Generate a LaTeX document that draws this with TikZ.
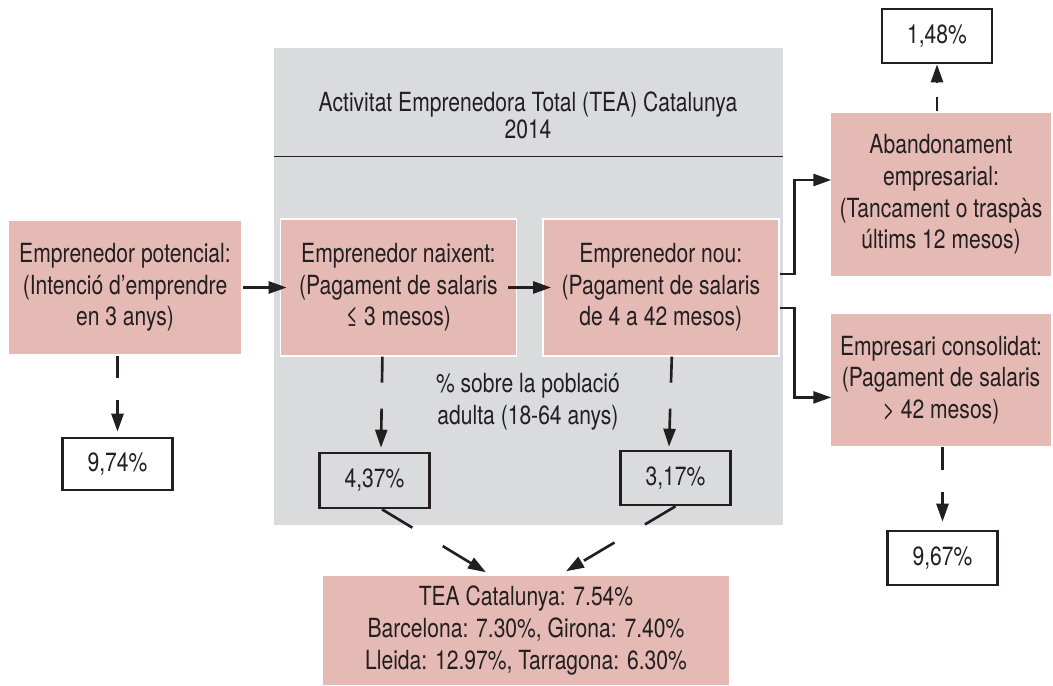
\documentclass[tikz,border=0pt]{standalone}
\usepackage{fontspec}
\setmainfont{TeX Gyre Heros}[FakeStretch=0.80]
\usetikzlibrary{positioning, arrows.meta, backgrounds, calc}

\definecolor{stagepink}{RGB}{229,186,180}
\definecolor{panelgray}{RGB}{218,219,221}
\definecolor{inkblack}{RGB}{35,31,32}

\begin{document}
\begin{tikzpicture}[
    font=\fontsize{15}{18}\selectfont,
    >={Triangle[length=3.6mm, width=2.4mm]},
    % Styles
    stage/.style={
        draw=white, line width=0.8pt, fill=stagepink, rectangle, align=center, inner sep=0pt, text=inkblack
    },
    share/.style={
        draw=inkblack, line width=1.5pt, rectangle, minimum width=2.2cm, minimum height=1.08cm, inner sep=0pt, text=inkblack
    },
    panel/.style={fill=panelgray, rectangle, inner sep=0pt},
    arrow/.style={->, line width=1.5pt, inkblack},
    gaparrow/.style={->, line width=1.5pt, inkblack, dash pattern=on #1 off #1},
    rule/.style={line width=0.8pt, inkblack}
]
    \useasboundingbox (0,0) rectangle (21.06,-13.72);

    % --- TEA PANEL ---
    \begin{scope}[on background layer]
        \node[panel, minimum width=10.18cm, minimum height=9.54cm] (tea panel) at (10.57,-5.73) {};
    \end{scope}
    \node[align=center, font=\fontsize{15}{15.5}\selectfont, text=inkblack] (title) at (10.56,-2.30) {Activitat Emprenedora Total (TEA) Catalunya\\2014};
    \draw[rule] ([yshift=-2.18cm]tea panel.north west) -- ([yshift=-2.18cm]tea panel.north east);

    % --- STAGES ---
    \node[stage, minimum width=4.68cm, minimum height=2.70cm] (potencial) at (2.50,-5.75) {Emprenedor potencial:\\(Intenció d’emprendre\\en 3 anys)};
    \node[stage, minimum width=4.72cm, minimum height=2.74cm, right=0.74cm of potencial] (naixent) {Emprenedor naixent:\\(Pagament de salaris\\≤ 3 mesos)};
    \node[stage, minimum width=4.72cm, minimum height=2.74cm, right=0.5cm of naixent] (nou) {Emprenedor nou:\\(Pagament de salaris\\de 4 a 42 mesos)};

    % Exits
    \node[stage, minimum width=4.44cm, minimum height=3.30cm] (abandonament) at (18.82,-3.89) {Abandonament\\empresarial:\\(Tancament o traspàs\\últims 12 mesos)};
    \node[stage, minimum width=4.44cm, minimum height=2.66cm, below=0.7cm of abandonament] (consolidat) {Empresari consolidat:\\(Pagament de salaris\\> 42 mesos)};

    % --- SHARES ---
    \node[share, minimum height=1.04cm] (p974) at (2.35,-9.28) {9,74\%};
    \node[share, minimum height=1.10cm] (p437) at (7.49,-9.61) {4,37\%};
    \node[share] (p317) at (13.51,-9.56) {3,17\%};
    \node[share] (p148) at (18.74,-0.72) {1,48\%};
    \node[share] (p967) at (18.85,-11.16) {9,67\%};

    \node[align=center, text=inkblack] (poblacio) at (10.56,-8.04) {\% sobre la població\\adulta (18-64 anys)};

    % TEA total
    \node[stage, minimum width=8.16cm, minimum height=2.22cm] (tea) at (10.52,-12.61) {TEA Catalunya: 7.54\%\\Barcelona: 7.30\%, Girona: 7.40\%\\Lleida: 12.97\%, Tarragona: 6.30\%};

    % --- CONNECTIONS ---
    \draw[arrow, shorten >=-0.14cm] (potencial.east) -- (potencial.east -| naixent.west);
    \draw[arrow, shorten <=-0.18cm, shorten >=-0.18cm] (naixent.east) -- (nou.west);
    \draw[arrow, shorten >=-0.04cm] ([yshift=0.27cm]nou.east) -- ++(0.30,0) |- ([yshift=0.29cm]abandonament.west);
    \draw[arrow, shorten >=-0.04cm] ([yshift=-0.41cm]nou.east) -- ++(0.30,0) |- ([yshift=-0.35cm]consolidat.west);

    % Shares (dashed)
    \draw[gaparrow=0.44cm, shorten >=0.1cm] (potencial.south -| p974.north) -- (p974.north);
    \draw[gaparrow=0.52cm] ($(naixent.south)+(-0.32,0)$) -- ($(p437.north)+(0.13,0.08)$);
    \draw[gaparrow=0.52cm] ($(nou.south)+(0.22,0)$) -- ($(p317.north)+(-0.13,0.06)$);
    \draw[gaparrow=0.28cm] (abandonament.north -| p148.south) -- (p148.south);
    \draw[gaparrow=0.45cm, shorten >=0.16cm] (consolidat.south -| p967.north) -- (p967.north);

    % Into TEA total
    \draw[gaparrow=0.71cm] ($(p437.south)+(0.15,0)$) -- ($(tea.north)+(-0.80,0.04)$);
    \draw[gaparrow=0.71cm] (p317.south) -- ($(tea.north)+(0.80,0.06)$);

\end{tikzpicture}
\end{document}
